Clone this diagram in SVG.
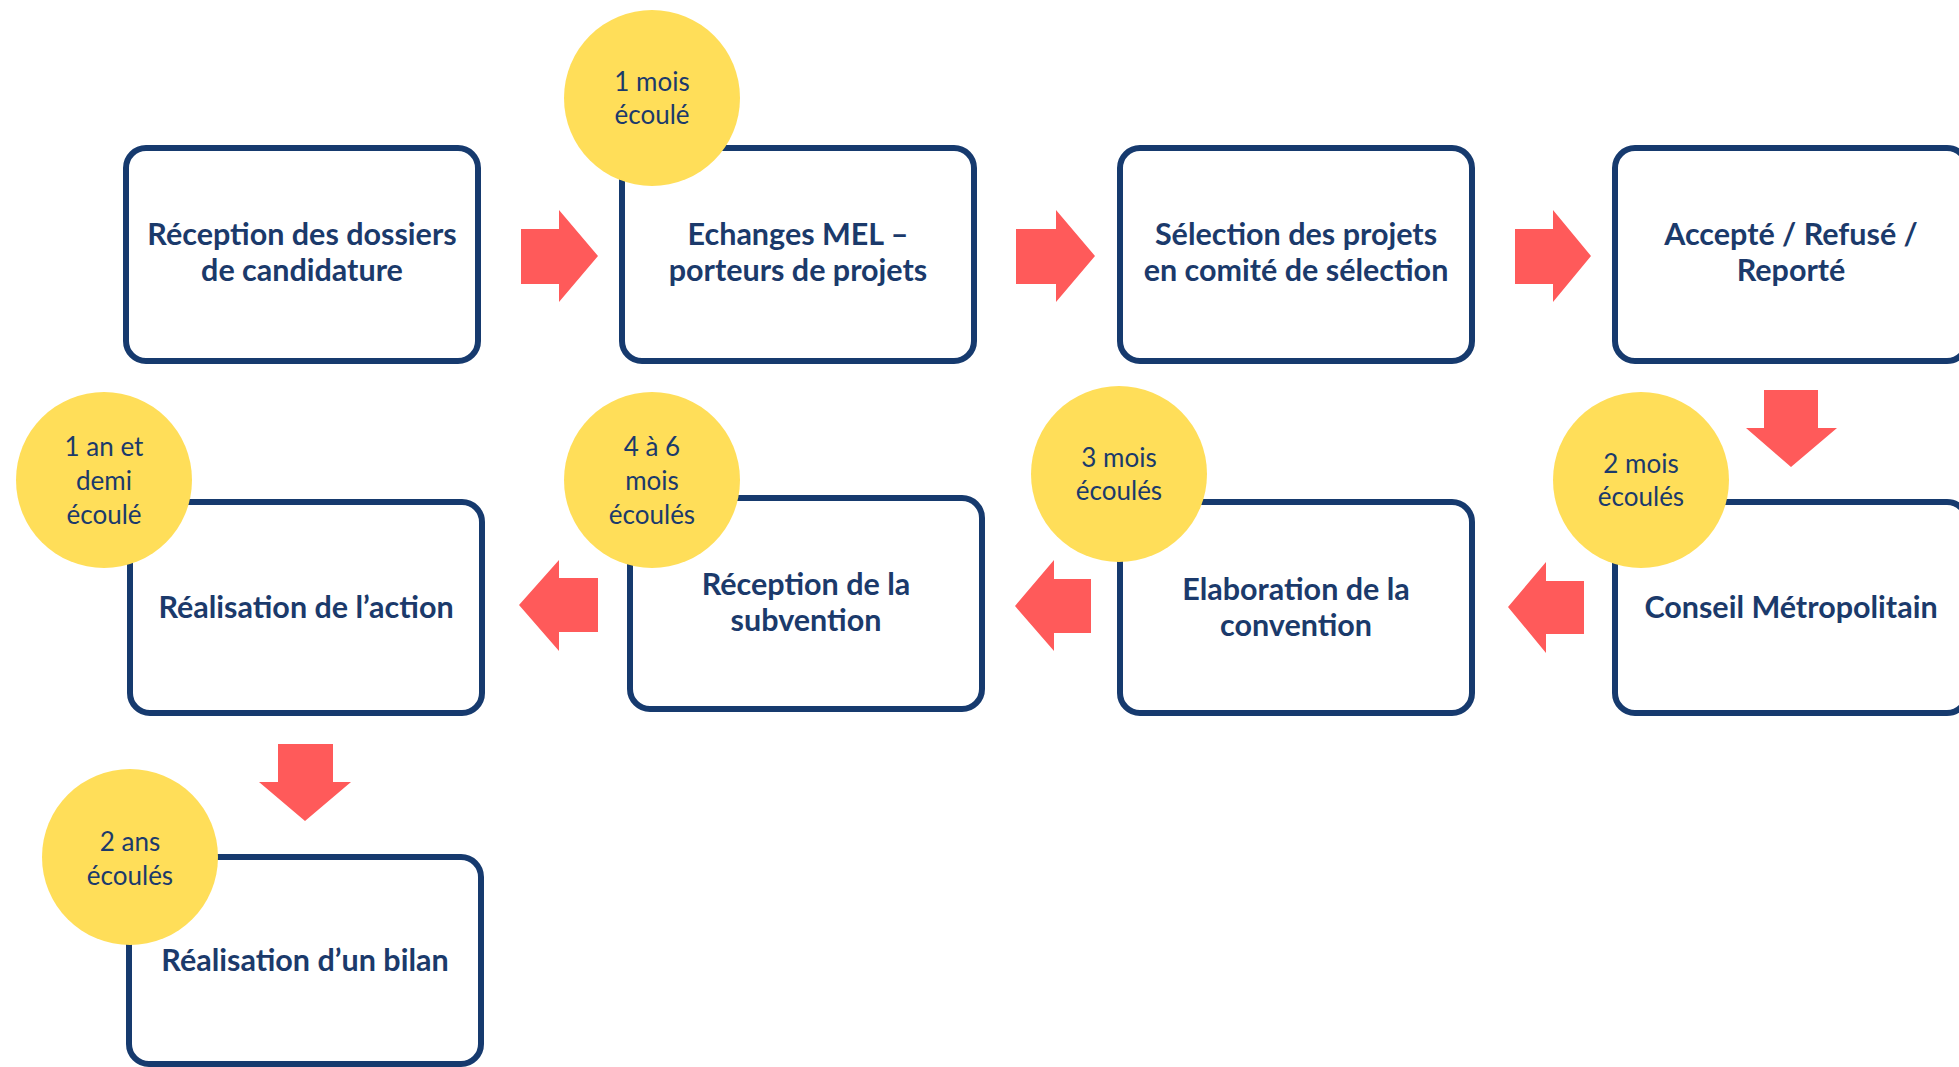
<svg xmlns="http://www.w3.org/2000/svg" width="1959" height="1067" viewBox="0 0 1959 1067">
<style>
.box{fill:#fff;stroke:#163a6e;stroke-width:6}
.lbl{font-family:Lato,"Open Sans","Liberation Sans",sans-serif;font-weight:bold;font-size:30.5px;fill:#1b3a6b;text-anchor:middle}
.dot{fill:#ffde59}
.tm{font-family:Lato,"Open Sans","Liberation Sans",sans-serif;font-size:26px;fill:#1b3a6b;text-anchor:middle}
.arr{fill:#ff5a5a}
</style>
<rect width="1959" height="1067" fill="#fff"/>
<g id="connectors">
<polygon class="arr" points="521,229 559,229 559,210 598,256 559,302 559,284 521,284"/>
<polygon class="arr" points="1016,229 1056,229 1056,210 1095,256 1056,302 1056,284 1016,284"/>
<polygon class="arr" points="1515,229 1553,229 1553,210 1591,256 1553,302 1553,284 1515,284"/>
<polygon class="arr" points="1764,390 1818,390 1818,428 1837,428 1791,467 1746,428 1764,428"/>
<polygon class="arr" points="1584,581 1546,581 1546,562 1508,607 1546,653 1546,634 1584,634"/>
<polygon class="arr" points="1091,579 1054,579 1054,560 1015,606 1054,651 1054,633 1091,633"/>
<polygon class="arr" points="598,578 559,578 559,560 519,605 559,651 559,632 598,632"/>
<polygon class="arr" points="278,744 333,744 333,782 351,782 305,821 259,782 278,782"/>
</g>
<g id="n1"><rect class="box" x="126" y="148" width="352" height="213" rx="20"/><text class="lbl" x="302" y="245">Réception des dossiers</text><text class="lbl" x="302" y="281">de candidature</text></g>
<g id="n2"><rect class="box" x="622" y="148" width="352" height="213" rx="20"/><text class="lbl" x="798" y="245">Echanges MEL –</text><text class="lbl" x="798" y="281">porteurs de projets</text></g>
<g id="n3"><rect class="box" x="1120" y="148" width="352" height="213" rx="20"/><text class="lbl" x="1296" y="245">Sélection des projets</text><text class="lbl" x="1296" y="281">en comité de sélection</text></g>
<g id="n4"><rect class="box" x="1615" y="148" width="352" height="213" rx="20"/><text class="lbl" x="1791" y="245">Accepté / Refusé /</text><text class="lbl" x="1791" y="281">Reporté</text></g>
<g id="n5"><rect class="box" x="1615" y="502" width="352" height="211" rx="20"/><text class="lbl" x="1791" y="618">Conseil Métropolitain</text></g>
<g id="n6"><rect class="box" x="1120" y="502" width="352" height="211" rx="20"/><text class="lbl" x="1296" y="600">Elaboration de la</text><text class="lbl" x="1296" y="636">convention</text></g>
<g id="n7"><rect class="box" x="630" y="498" width="352" height="211" rx="20"/><text class="lbl" x="806" y="595">Réception de la</text><text class="lbl" x="806" y="631">subvention</text></g>
<g id="n8"><rect class="box" x="130" y="502" width="352" height="211" rx="20"/><text class="lbl" x="306" y="618">Réalisation de l’action</text></g>
<g id="n9"><rect class="box" x="129" y="857" width="352" height="207" rx="20"/><text class="lbl" x="305" y="971">Réalisation d’un bilan</text></g>
<g id="t1"><circle class="dot" cx="652" cy="98" r="88"/><text class="tm" x="652" y="91">1 mois</text><text class="tm" x="652" y="124">écoulé</text></g>
<g id="t2"><circle class="dot" cx="1641" cy="480" r="88"/><text class="tm" x="1641" y="473">2 mois</text><text class="tm" x="1641" y="506">écoulés</text></g>
<g id="t3"><circle class="dot" cx="1119" cy="474" r="88"/><text class="tm" x="1119" y="467">3 mois</text><text class="tm" x="1119" y="500">écoulés</text></g>
<g id="t4"><circle class="dot" cx="652" cy="480" r="88"/><text class="tm" x="652" y="456">4 à 6</text><text class="tm" x="652" y="490">mois</text><text class="tm" x="652" y="524">écoulés</text></g>
<g id="t5"><circle class="dot" cx="104" cy="480" r="88"/><text class="tm" x="104" y="456">1 an et</text><text class="tm" x="104" y="490">demi</text><text class="tm" x="104" y="524">écoulé</text></g>
<g id="t6"><circle class="dot" cx="130" cy="857" r="88"/><text class="tm" x="130" y="851">2 ans</text><text class="tm" x="130" y="885">écoulés</text></g>
</svg>
